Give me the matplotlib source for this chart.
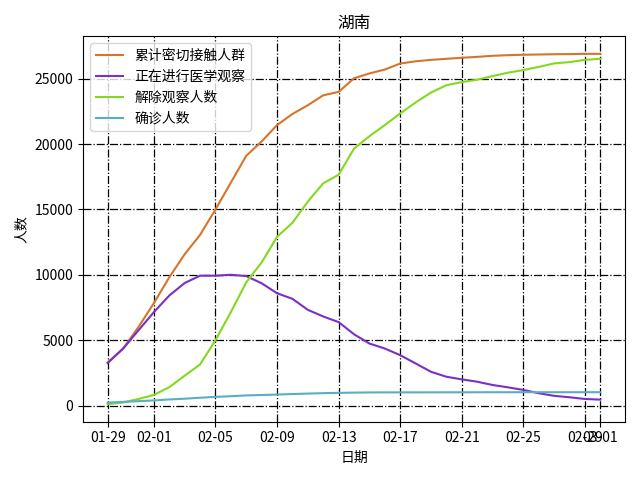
import matplotlib
matplotlib.use("Agg")
import matplotlib.pyplot as plt
import matplotlib.dates as mdates
import pandas as pd

plt.rcParams['font.family'] = ['Noto Sans CJK SC', 'DejaVu Sans']
plt.rcParams['axes.unicode_minus'] = False

dates = pd.date_range("2020-01-29", "2020-03-01", freq="D")

close_contacts = [3300, 4350, 6000, 7830, 9800, 11570, 13050, 14990, 17050, 19100,
                  20200, 21450, 22300, 22970, 23730, 23990, 25030, 25400, 25700, 26160,
                  26330, 26440, 26520, 26600, 26670, 26750, 26800, 26830, 26850, 26870,
                  26880, 26900, 26900]
under_observation = [3250, 4350, 5750, 7140, 8410, 9370, 9930, 9930, 10000, 9900,
                     9350, 8590, 8160, 7320, 6810, 6380, 5450, 4740, 4360, 3850,
                     3220, 2580, 2200, 2000, 1820, 1570, 1390, 1190, 940, 740,
                     630, 500, 450]
released = [100, 230, 500, 810, 1400, 2280, 3140, 4990, 7140, 9420,
            10940, 12900, 13980, 15600, 17000, 17650, 19650, 20600, 21450, 22340,
            23180, 23940, 24500, 24740, 24920, 25200, 25460, 25660, 25900, 26170,
            26270, 26440, 26520]
confirmed = [221, 277, 332, 389, 463, 521, 593, 661, 711, 772,
             803, 838, 879, 912, 946, 968, 988, 1001, 1004, 1006,
             1007, 1008, 1010, 1011, 1013, 1016, 1016, 1016, 1016, 1017,
             1017, 1018, 1018]

series_names = ["累计密切接触人群", "正在进行医学观察", "解除观察人数", "确诊人数"]
tick_dates = ["2020-01-29", "2020-02-01", "2020-02-05", "2020-02-09", "2020-02-13",
              "2020-02-17", "2020-02-21", "2020-02-25", "2020-02-29", "2020-03-01"]

colors = ['#d8742a', '#7a2fc7', '#84d81e', '#5aaec4']

fig, ax = plt.subplots(figsize=(6.4, 4.8), dpi=100)
for vals, name, c in zip([close_contacts, under_observation, released, confirmed],
                         series_names, colors):
    ax.plot(dates, vals, color=c, label=name, linewidth=1.5)

ax.set_xticks(pd.to_datetime(tick_dates))
ax.xaxis.set_major_formatter(mdates.DateFormatter('%m-%d'))
ax.grid(True, color='black', linestyle='-.', linewidth=0.9)
ax.set_title("湖南")
ax.set_xlabel("日期")
ax.set_ylabel("人数")
ax.legend(loc='upper left')
fig.tight_layout()
fig.savefig("out.png", dpi=100)
